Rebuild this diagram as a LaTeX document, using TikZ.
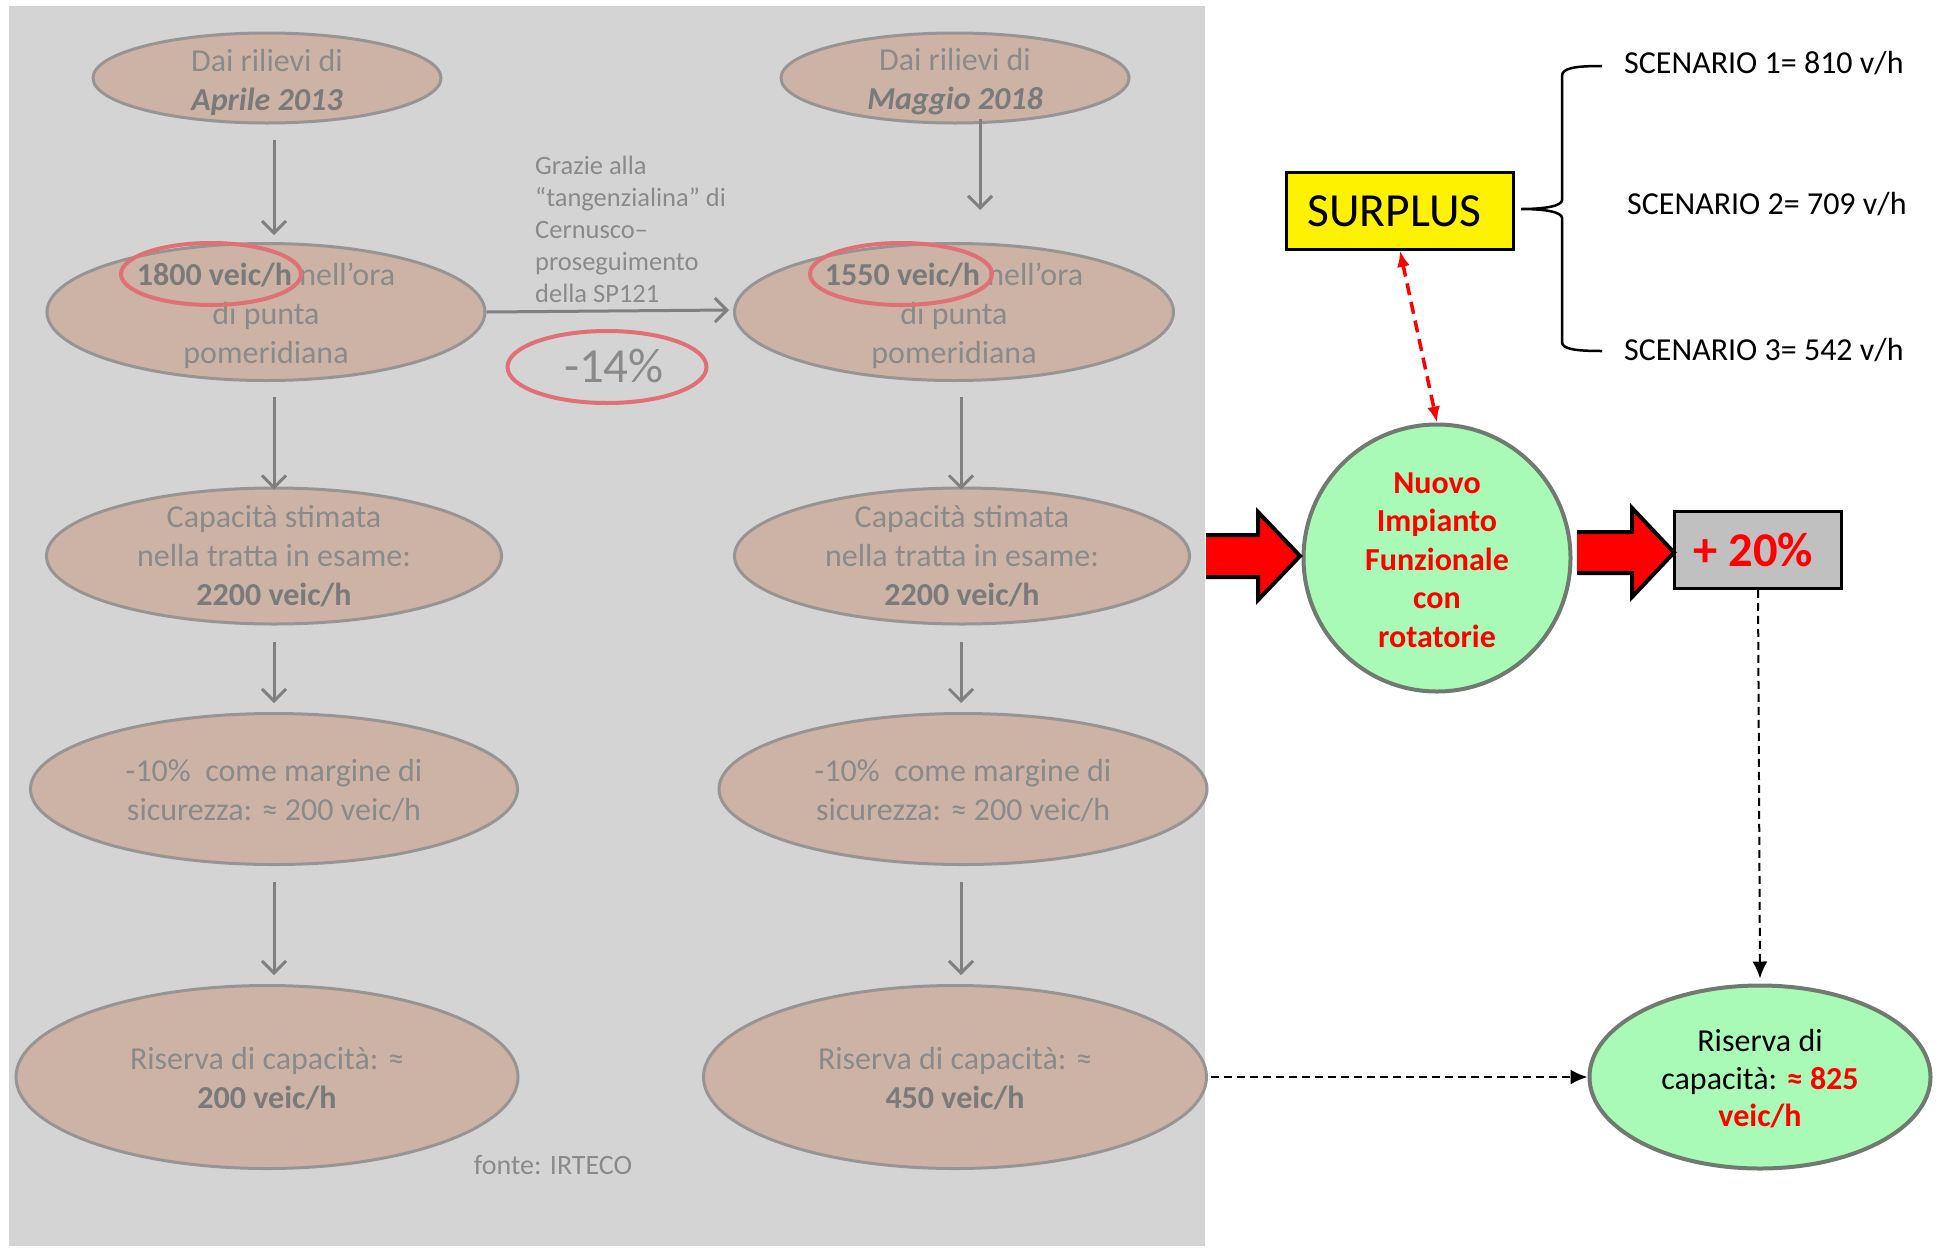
\documentclass[tikz,border=0pt]{standalone}
\usepackage{fontspec}
\setmainfont{Carlito}
\usetikzlibrary{arrows.meta,shapes.geometric}
\definecolor{panelbg}{RGB}{212,212,212}
\definecolor{rosefill}{RGB}{205,178,166}
\definecolor{roseline}{RGB}{152,148,148}
\definecolor{ptext}{RGB}{138,138,138}
\definecolor{pbold}{RGB}{122,122,122}
\definecolor{ringred}{RGB}{224,112,118}
\definecolor{parrow}{RGB}{128,128,128}
\definecolor{mint}{RGB}{169,250,182}
\definecolor{mintline}{RGB}{112,122,112}
\definecolor{boxgray}{RGB}{192,192,192}
\newcommand{\pb}[1]{\textcolor{pbold}{\textbf{#1}}}
\begin{document}
\begin{tikzpicture}[x=1pt,y=-1pt,
  pell/.style={ellipse, draw=roseline, fill=rosefill, line width=3pt, inner sep=0pt},
  ptxt/.style={text=ptext, align=center, inner sep=0pt, font=\fontsize{32}{39}\selectfont},
  ring/.style={ellipse, draw=ringred, line width=4pt, inner sep=0pt},
  garrow/.style={draw=parrow, line width=3pt,
    -{Straight Barb[length=12pt,width=24pt,line width=3pt]}},
  reddash/.style={draw=red, line width=3.5pt, dash pattern=on 12pt off 7pt,
    {Latex[length=16pt,width=13pt]}-{Latex[length=16pt,width=13pt]}},
  blkdash/.style={draw=black, line width=2pt, dash pattern=on 8pt off 5pt,
    -{Latex[length=17pt,width=15pt]}},
  blockarrow/.style={draw=black, line width=4pt, line join=miter},
  scen/.style={anchor=west, inner sep=0pt, font=\fontsize{32}{38}\selectfont}
]
\useasboundingbox (0,0) rectangle (1937,1248);
\fill[panelbg] (9,6) rectangle (1205,1246);

% left column
\node[pell, minimum width=348pt, minimum height=90pt] (L1) at (267,78) {};
\node[ptxt] (L1t) at (267,82) {Dai rilievi di\\\pb{\textit{Aprile 2013}}};
\node[pell, minimum width=438pt, minimum height=137pt] (L2) at (266,312) {};
\node[ptxt] (L2t) at (266,316) {\pb{1800 veic/h} nell’ora\\di punta\\pomeridiana};
\node[pell, minimum width=455pt, minimum height=136pt] (L3) at (274,556) {};
\node[ptxt] (L3t) at (274,556) {Capacità stimata\\nella tratta in esame:\\\pb{2200 veic/h}};
\node[pell, minimum width=487pt, minimum height=151pt] (L4) at (274,789) {};
\node[ptxt] (L4t) at (274,791) {-10\%\ \ come margine di\\sicurezza: ≈ 200 veic/h};
\node[pell, minimum width=502pt, minimum height=183pt] (L5) at (267,1077) {};
\node[ptxt] (L5t) at (267,1079) {Riserva di capacità: ≈\\\pb{200 veic/h}};

% right column
\node[pell, minimum width=348pt, minimum height=90pt] (R1) at (955,78) {};
\node[ptxt] (R1t) at (955,82) {Dai rilievi di\\\pb{\textit{Maggio 2018}}};
\node[pell, minimum width=439pt, minimum height=137pt] (R2) at (954,312) {};
\node[ptxt] (R2t) at (954,316) {\pb{1550 veic/h} nell’ora\\di punta\\pomeridiana};
\node[pell, minimum width=455pt, minimum height=136pt] (R3) at (962,556) {};
\node[ptxt] (R3t) at (962,556) {Capacità stimata\\nella tratta in esame:\\\pb{2200 veic/h}};
\node[pell, minimum width=488pt, minimum height=151pt] (R4) at (963,789) {};
\node[ptxt] (R4t) at (963,791) {-10\%\ \ come margine di\\sicurezza: ≈ 200 veic/h};
\node[pell, minimum width=503pt, minimum height=183pt] (R5) at (955,1077) {};
\node[ptxt] (R5t) at (955,1079) {Riserva di capacità: ≈\\\pb{450 veic/h}};

% red rings
\node[ring, minimum width=180pt, minimum height=62pt] (ringL) at (211,274) {};
\node[ring, minimum width=182pt, minimum height=62pt] (ringR) at (901,274) {};
\node[ring, minimum width=199pt, minimum height=72pt] (minus) at (607,367) {};
\node[ptxt, font=\fontsize{49}{52}\selectfont] (minust) at (614,366) {-14\%};

\node[anchor=west, align=left, inner sep=0pt, text=ptext, font=\fontsize{26.5}{32}\selectfont] (grazie) at (535,229)
  {Grazie alla\\“tangenzialina” di\\Cernusco–\\proseguimento\\della SP121};
\node[ptxt, font=\fontsize{28}{32}\selectfont] (fonte) at (553,1165) {fonte: IRTECO};

% gray arrows
\draw[garrow] ([xshift=7pt,yshift=-15pt]L1.south) -- ([xshift=8pt,yshift=7pt]L2.north);
\draw[garrow] ([xshift=25pt,yshift=6pt]R1.south) -- ([xshift=26pt,yshift=32pt]R2.north);
\draw[garrow] ([xshift=8pt,yshift=-14.5pt]L2.south) -- ([xshift=0pt,yshift=-3pt]L3.north);
\draw[garrow] ([xshift=7pt,yshift=-14.5pt]R2.south) -- ([xshift=-1pt,yshift=-3pt]R3.north);
\draw[garrow] ([yshift=-16pt]L3.south) -- ([yshift=9pt]L4.north);
\draw[garrow] ([xshift=-1pt,yshift=-16pt]R3.south) -- ([xshift=-2pt,yshift=9pt]R4.north);
\draw[garrow] ([yshift=-15.5pt]L4.south) -- ([xshift=7pt,yshift=9pt]L5.north);
\draw[garrow] ([xshift=-2pt,yshift=-15.5pt]R4.south) -- ([xshift=6pt,yshift=9pt]R5.north);
\draw[garrow] (L2.east) -- ([xshift=-4pt,yshift=2pt]R2.west);

% right part
\node[draw=black, line width=2.5pt, fill=yellow, minimum width=227pt, minimum height=77pt,
  font=\fontsize{47.5}{50}\selectfont] (surplus) at (1400,211) {\hspace*{-11pt}SURPLUS};
\node[scen] (s1) at (1624,63) {SCENARIO 1= 810 v/h};
\node[scen] (s2) at (1627,204) {SCENARIO 2= 709 v/h};
\node[scen] (s3) at (1624,350) {SCENARIO 3= 542 v/h};
\draw[line width=2.5pt] (1602,66) .. controls (1575,66) and (1562,68) .. (1562,76) -- (1562,200)
  .. controls (1562,206) and (1545,209) .. (1521,209)
  .. controls (1545,209) and (1562,212) .. (1562,218) -- (1562,342)
  .. controls (1562,349) and (1575,351) .. (1602,351);

\node[circle, draw=mintline, fill=mint, line width=4pt, minimum size=267pt, inner sep=0pt] (nuovo) at (1437,558) {};
\node[text=red, align=center, inner sep=0pt, font=\bfseries\fontsize{32}{38.5}\selectfont] (nuovot) at (1437,560)
  {Nuovo\\Impianto\\Funzionale\\con\\rotatorie};
\node[draw=black, line width=2.5pt, fill=boxgray, minimum width=167pt, minimum height=77pt,
  text=red, font=\bfseries\fontsize{48.5}{50}\selectfont] (plus) at (1758,550) {\hspace*{-9pt}+ 20\%};
\node[ellipse, draw=mintline, fill=mint, line width=4pt, minimum width=341pt, minimum height=183pt,
  inner sep=0pt] (ris) at (1760,1077) {};
\node[align=center, inner sep=0pt, font=\fontsize{32}{37.5}\selectfont] (rist) at (1760,1079)
  {Riserva di\\capacità: \textcolor{red}{\textbf{≈ 825}}\\\textcolor{red}{\textbf{veic/h}}};

% block arrows
\fill[red] (1206,535) -- (1258,535) -- (1258,512) -- (1300,556) -- (1258,600) -- (1258,577) -- (1206,577) -- cycle;
\draw[blockarrow] (1206,535) -- (1258,535) -- (1258,512) -- (1300,556) -- (1258,600) -- (1258,577) -- (1206,577);
\fill[red] (1577,532) -- (1632,532) -- (1632,508) -- (1674,552.5) -- (1632,597) -- (1632,573) -- (1577,573) -- cycle;
\draw[blockarrow] (1577,532) -- (1632,532) -- (1632,508) -- (1674,552.5) -- (1632,597) -- (1632,573) -- (1577,573);

% connectors
\draw[reddash] (surplus.south) -- (nuovo.north);
\draw[blkdash] (plus.south) -- ([yshift=5pt]ris.north);
\draw[blkdash] ([xshift=3pt]R5.east) -- (ris.west);
\end{tikzpicture}
\end{document}
